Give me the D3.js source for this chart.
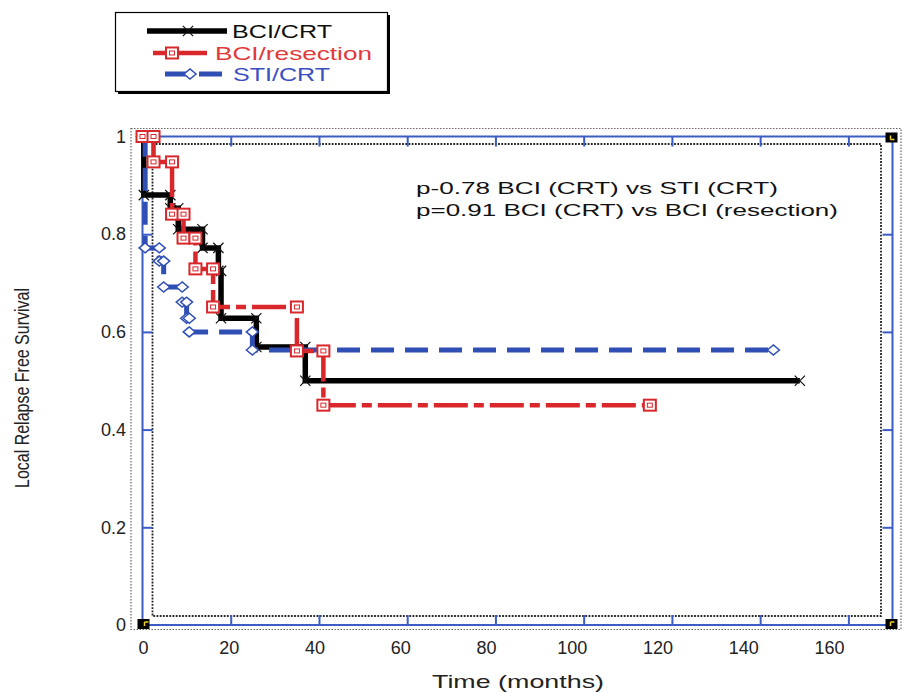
<!DOCTYPE html>
<html>
<head>
<meta charset="utf-8">
<script src="https://cdn.jsdelivr.net/npm/d3@7"></script>
<style>
  body { margin: 0; background: #fff; }
  svg text { font-family: "Liberation Sans", Arial, sans-serif; }
</style>
</head>
<body>
<svg id="chart" width="904" height="692"></svg>
<script>
// Kaplan-Meier estimates: survival becomes surv[i] at time[i] (months)
const bciCrtTime = [0, 0.3, 6.3, 8.1, 13.6, 17.2, 17.8, 25.8, 36.9, 149];
const bciCrtSurv = [1, 0.88, 0.853, 0.81, 0.772, 0.725, 0.628, 0.569, 0.50, 0.50];

const bciResTime = [0, 2.5, 6.7, 9.3, 12, 16, 35, 41, 115];
const bciResSurv = [1, 0.948, 0.841, 0.792, 0.729, 0.651, 0.561, 0.45, 0.45];

const stiCrtTime = [0, 0.6, 3.8, 4.8, 9, 10, 10.6, 24.9, 143];
const stiCrtSurv = [1, 0.772, 0.745, 0.692, 0.661, 0.628, 0.600, 0.563, 0.563];

const seriesNames = ["BCI/CRT", "BCI/resection", "STI/CRT"];
const xTicks = [0, 20, 40, 60, 80, 100, 120, 140, 160];
const yTicks = [0, 0.2, 0.4, 0.6, 0.8, 1];
const pNotes = ["p-0.78 BCI (CRT) vs STI (CRT)", "p=0.91 BCI (CRT) vs BCI (resection)"];

const BLACK = "#000", RED = "#d8282c", BLUE = "#2f4fb5", FRAME = "#3b5cc4";

const svg = d3.select("#chart");

const x = d3.scaleLinear().domain([0, 170]).range([142.5, 892.5]);
const y = d3.scaleLinear().domain([0, 1]).range([625, 136.5]);
// tick labels in the scan sit a little off the tick marks
const xLab = d3.scaleLinear().domain([0, 160]).range([143, 829]);

// dotted boxes
svg.append("rect").attr("x", 131).attr("y", 128.5).attr("width", 770).attr("height", 501)
  .attr("fill", "none").attr("stroke", "#666").attr("stroke-width", 1.2).attr("stroke-dasharray", "1.5,1.5");
svg.append("rect").attr("x", 152.5).attr("y", 144).attr("width", 728.5).attr("height", 472)
  .attr("fill", "none").attr("stroke", "#222").attr("stroke-width", 1.8).attr("stroke-dasharray", "1.8,1.4");

// blue axes frame with inward ticks
svg.append("rect").attr("x", x(0)).attr("y", y(1)).attr("width", x(170) - x(0)).attr("height", y(0) - y(1))
  .attr("fill", "none").attr("stroke", FRAME).attr("stroke-width", 2);

const innerX = xTicks.slice(1), innerY = yTicks.slice(1, -1);
function tickStyle(g) {
  g.select(".domain").remove();
  g.selectAll("line").attr("stroke", FRAME).attr("stroke-width", 2);
  g.selectAll("text").remove();
}
svg.append("g").attr("transform", `translate(0,${y(0)})`)
  .call(d3.axisTop(x).tickValues(innerX).tickSize(10)).call(tickStyle);
svg.append("g").attr("transform", `translate(0,${y(1)})`)
  .call(d3.axisBottom(x).tickValues(innerX).tickSize(10)).call(tickStyle);
svg.append("g").attr("transform", `translate(${x(0)},0)`)
  .call(d3.axisRight(y).tickValues(innerY).tickSize(10)).call(tickStyle);
svg.append("g").attr("transform", `translate(${x(170)},0)`)
  .call(d3.axisLeft(y).tickValues(innerY).tickSize(10)).call(tickStyle);

// corner squares
[[0, 0], [170, 0], [0, 1], [170, 1]].forEach(function (c) {
  let cx = x(c[0]), cy = y(c[1]);
  let dx = c[0] == 0 ? 1 : -1, dy = c[1] == 0 ? -1 : 1;
  svg.append("rect").attr("x", cx - 6 + dx).attr("y", cy - 5 + dy).attr("width", 12).attr("height", 10).attr("fill", "#000");
  svg.append("path").attr("d", `M${cx + dx * 2},${cy + dy * 3}L${cx + dx * 2 + 4},${cy + dy * 3}M${cx + dx * 2},${cy + dy * 3}L${cx + dx * 2},${cy + dy * 3 - dy * 4}`)
    .attr("stroke", "#f0d020").attr("stroke-width", 1.5);
});

// tick labels
function labelStyle(g) {
  g.select(".domain").remove();
  g.selectAll("line").remove();
  g.selectAll("text").attr("font-size", 18).attr("fill", "#222")
    .attr("font-family", "Liberation Sans, Arial, sans-serif");
}
svg.append("g").attr("transform", "translate(0,641)")
  .call(d3.axisBottom(xLab).tickValues(xTicks).tickSize(0).tickPadding(0).tickFormat(d3.format("d")))
  .call(labelStyle);
svg.append("g").attr("transform", "translate(126,0)")
  .call(d3.axisLeft(y).tickValues(yTicks).tickSize(0).tickPadding(0).tickFormat(d3.format("")))
  .call(labelStyle);

// axis titles
svg.append("text").attr("x", 518).attr("y", 688).attr("text-anchor", "middle")
  .attr("font-size", 19).attr("fill", "#222").attr("textLength", 172).attr("lengthAdjust", "spacingAndGlyphs")
  .text("Time (months)");
svg.append("text").attr("transform", "translate(29,388) rotate(-90)").attr("text-anchor", "middle")
  .attr("font-size", 20).attr("fill", "#222").attr("textLength", 200).attr("lengthAdjust", "spacingAndGlyphs")
  .text("Local Relapse Free Survival");

// p-values
pNotes.forEach(function (t, i) {
  svg.append("text").attr("x", 416).attr("y", 194 + i * 22).attr("font-size", 17).attr("fill", "#111")
    .attr("textLength", i == 0 ? 362 : 422).attr("lengthAdjust", "spacingAndGlyphs").text(t);
});

// step curves
function stepPoints(times, surv) {
  let pts = [[times[0], surv[0]]];
  for (let i = 1; i < times.length; i++) {
    pts.push([times[i], surv[i - 1]]);
    if (surv[i] !== surv[i - 1]) pts.push([times[i], surv[i]]);
  }
  return pts;
}
const line = d3.line().x(d => x(d[0])).y(d => y(d[1]));

const series = [
  { name: seriesNames[0], t: bciCrtTime, s: bciCrtSurv, color: BLACK, width: 5.5, dash: null, marker: "x" },
  { name: seriesNames[2], t: stiCrtTime, s: stiCrtSurv, color: BLUE, width: 5, dash: "23,11", marker: "diamond" },
  { name: seriesNames[1], t: bciResTime, s: bciResSurv, color: RED, width: 4.5, dash: "34,6,10,6", marker: "square" }
];

function drawMarker(g, kind, px, py, color) {
  if (kind == "x") {
    g.append("path").attr("d", d3.symbol(d3.symbolX, 70)()).attr("transform", `translate(${px},${py})`)
      .attr("fill", "none").attr("stroke", "#111").attr("stroke-width", 1.2);
  } else if (kind == "square") {
    g.append("rect").attr("x", px - 6).attr("y", py - 5.5).attr("width", 12).attr("height", 11)
      .attr("fill", "#fff").attr("stroke", color).attr("stroke-width", 2);
    g.append("rect").attr("x", px - 2.5).attr("y", py - 2).attr("width", 5).attr("height", 4)
      .attr("fill", "none").attr("stroke", color).attr("stroke-width", 1);
  } else {
    g.append("path").attr("d", `M${px - 6},${py}L${px},${py - 5}L${px + 6},${py}L${px},${py + 5}Z`)
      .attr("fill", "#fff").attr("stroke", color).attr("stroke-width", 1.5);
  }
}

series.forEach(function (sr) {
  let pts = stepPoints(sr.t, sr.s);
  let g = svg.append("g");
  g.append("path").datum(pts).attr("d", line).attr("fill", "none")
    .attr("stroke", sr.color).attr("stroke-width", sr.width)
    .attr("stroke-dasharray", sr.dash);
  pts.forEach(p => drawMarker(g, sr.marker, x(p[0]), y(p[1]), sr.color));
});

// legend
const lg = svg.append("g");
lg.append("rect").attr("x", 118).attr("y", 15).attr("width", 272).attr("height", 79).attr("fill", "#000");
lg.append("rect").attr("x", 115.5).attr("y", 12.5).attr("width", 272).attr("height", 79)
  .attr("fill", "#fff").attr("stroke", "#000").attr("stroke-width", 1.2);
const legendRows = [
  { s: series[0], y: 31, x1: 147, x2: 227, mx: 188, tx: 232, tl: 100, fill: "#111" },
  { s: series[2], y: 53, x1: 153, x2: 207, mx: 172, tx: 215, tl: 157, fill: "#e03a3a" },
  { s: series[1], y: 74, x1: 165, x2: 222, mx: 190, tx: 233, tl: 97, fill: "#3a4fc0" }
];
legendRows.forEach(function (r) {
  lg.append("line").attr("x1", r.x1).attr("x2", r.x2).attr("y1", r.y).attr("y2", r.y)
    .attr("stroke", r.s.color).attr("stroke-width", r.s.width)
    .attr("stroke-dasharray", r.s.marker == "diamond" ? "23,11" : null);
  drawMarker(lg, r.s.marker, r.mx, r.y, r.s.color);
  lg.append("text").attr("x", r.tx).attr("y", r.y + 7).attr("font-size", 19).attr("fill", r.fill)
    .attr("textLength", r.tl).attr("lengthAdjust", "spacingAndGlyphs").text(r.s.name);
});
</script>
</body>
</html>
